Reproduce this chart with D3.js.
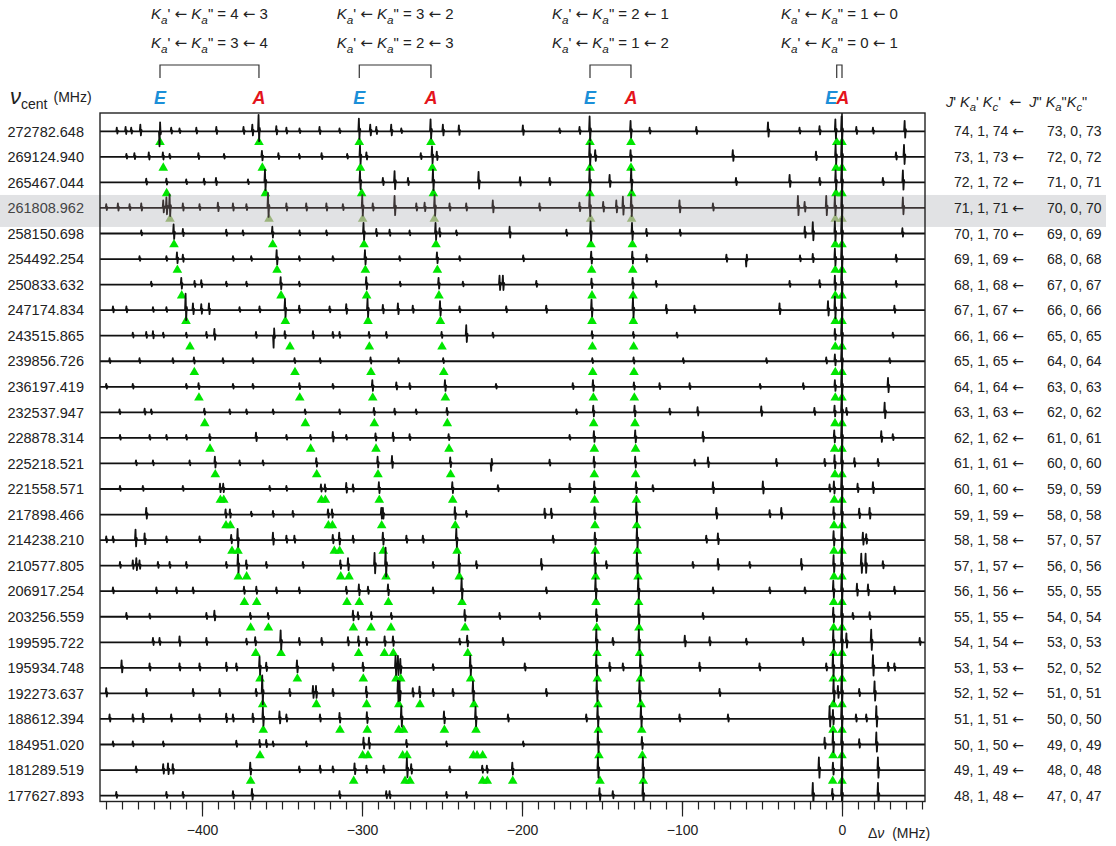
<!DOCTYPE html>
<html>
<head>
<meta charset="utf-8">
<script src="https://cdn.jsdelivr.net/npm/d3@7"></script>
<style>
body { margin: 0; background: #fff; }
svg text { font-family: "Liberation Sans", Arial, sans-serif; fill: #222; }
.arr { font-family: "DejaVu Sans", sans-serif; }
</style>
</head>
<body>
<div id="chart"></div>
<script>
var W = 1116, H = 846;

// Centre frequency of each strip (MHz), top to bottom
var centers = ["272782.648", "269124.940", "265467.044", "261808.962", "258150.698", "254492.254",
	"250833.632", "247174.834", "243515.865", "239856.726", "236197.419", "232537.947", "228878.314",
	"225218.521", "221558.571", "217898.466", "214238.210", "210577.805", "206917.254", "203256.559",
	"199595.722", "195934.748", "192273.637", "188612.394", "184951.020", "181289.519", "177627.893"];

// J' and J'' for the right hand assignments
var jUpper = [74, 73, 72, 71, 70, 69, 68, 67, 66, 65, 64, 63, 62, 61, 60, 59, 58, 57, 56, 55, 54, 53, 52, 51, 50, 49, 48];
var jLower = [73, 72, 71, 70, 69, 68, 67, 66, 65, 64, 63, 62, 61, 60, 59, 58, 57, 56, 55, 54, 53, 52, 51, 50, 49, 48, 47];

// Ka values of the four E/A pairs
var kaUpper = [["4", "3"], ["3", "2"], ["2", "1"], ["1", "0"]];
var kaLower = [["3", "4"], ["2", "3"], ["1", "2"], ["0", "1"]];

var xTicks = [-400, -300, -200, -100, 0];
var highlight = 3;

// Assigned lines (green triangles), offset from centre in MHz
var marks = [
	[-426.25, -364.4, -301.7, -256.9, -157.5, -131.9, -3.3, 0],
	[-424.2, -362.3, -301.0, -256.0, -157.5, -131.9, -3.75, 0],
	[-422.1, -360.4, -300.2, -255.4, -157.5, -131.5, -3.75, 0],
	[-420.0, -358.1, -299.6, -254.8, -157.1, -131.5, -4.2, 0],
	[-417.5, -355.8, -298.75, -253.75, -156.9, -131.0, -4.2, 0],
	[-415.4, -353.1, -297.9, -252.9, -156.5, -130.8, -4.2, 0],
	[-412.7, -350.6, -297.1, -251.9, -156.25, -130.6, -4.2, 0],
	[-410.0, -347.9, -296.25, -251.0, -156.25, -130.4, -4.2, 0],
	[-407.5, -345.0, -295.4, -250.0, -156.0, -130.2, -4.2, 0],
	[-404.8, -341.9, -294.4, -248.9, -155.8, -130.0, -4.2, 0],
	[-401.9, -338.9, -293.3, -247.9, -155.4, -129.8, -4.2, 0],
	[-398.3, -335.4, -292.3, -246.7, -155.2, -129.4, -4.4, 0],
	[-395.0, -332.1, -291.25, -245.6, -154.8, -129.0, -4.6, 0],
	[-391.7, -328.3, -290.0, -244.6, -154.8, -129.0, -4.4, 0],
	[-388.5, -386.4, -325.4, -322.9, -289.2, -243.3, -154.6, -128.5, -4.8, 0],
	[-385.0, -382.3, -321.0, -318.5, -287.7, -241.7, -154.4, -128.3, -5.0, 0],
	[-381.25, -377.5, -317.3, -314.0, -286.7, -240.6, -154.2, -127.9, -5.0, 0],
	[-377.3, -372.1, -313.3, -308.1, -285.0, -239.2, -154.0, -127.5, -5.0, 0],
	[-373.5, -365.8, -309.4, -301.7, -283.5, -237.5, -153.75, -127.1, -5.2, 0],
	[-369.6, -358.5, -305.4, -294.4, -281.9, -235.6, -153.3, -126.9, -5.2, 0],
	[-366.4, -350.6, -302.1, -286.0, -280.4, -233.9, -153.1, -126.5, -5.2, 0],
	[-363.75, -340.4, -299.2, -278.75, -275.8, -232.1, -152.9, -126.0, -5.4, 0],
	[-362.1, -328.5, -297.1, -277.0, -263.75, -230.0, -152.5, -125.6, -5.4, 0],
	[-361.7, -313.75, -296.7, -277.0, -274.0, -248.5, -228.75, -152.3, -125.2, -5.6, 0],
	[-363.75, -299.6, -296.25, -274.6, -271.9, -230.4, -228.1, -224.6, -151.9, -124.8, -5.6, 0],
	[-369.6, -305.2, -273.1, -270.0, -224.6, -221.7, -205.8, -151.25, -124.2, -5.8, 0],
	[]
];

// Spectrum lines: [offset MHz, relative intensity]
var peaks = [
	[[-453,0.25],[-447.5,0.3],[-444,0.25],[-438.3,0.45],[-426.3,-1.0],[-419,0.25],[-413.8,0.2],[-403.3,0.25],[-390.8,0.3],[-373.8,0.3],[-368.3,0.45],[-364.4,1.1],[-353.3,0.35],[-347,0.25],[-338.8,0.2],[-326.3,0.3],[-313.8,0.2],[-301.7,0.85],[-294.6,0.45],[-290.8,0.3],[-281.5,0.45],[-275.2,0.2],[-256.9,0.8],[-249.2,0.45],[-239.2,0.4],[-199.2,0.4],[-176.3,0.2],[-163.8,0.3],[-157.5,1.0],[-131.9,0.7],[-120,0.25],[-90.8,0.3],[-46,0.6],[-26.3,0.25],[-13.8,0.35],[-3.9,0.8],[0,1],[9.2,0.3],[19.6,0.25],[39.4,0.7]],
	[[-447,0.2],[-442,0.25],[-433,0.3],[-424.2,0.3],[-420,0.2],[-402,0.25],[-386,0.2],[-362.3,0.4],[-352,0.25],[-339,0.2],[-325,0.25],[-309,0.2],[-301,0.75],[-297,0.3],[-263,0.25],[-256,0.7],[-253,0.35],[-157.5,0.9],[-154,0.45],[-131.9,0.45],[-68,0.45],[-16,0.35],[-3.75,0.8],[0,1],[34,0.3],[39,0.8]],
	[[-434.6,0.25],[-422,0.25],[-409.6,0.2],[-398.5,0.25],[-391,0.3],[-371,0.2],[-360.4,0.85],[-301,0.75],[-286.7,0.3],[-279.4,0.75],[-271,0.3],[-255.4,0.85],[-226.9,0.7],[-201,0.35],[-182.5,0.3],[-157.5,0.9],[-145,0.5],[-131.5,0.9],[-66,0.3],[-32.5,0.5],[-13.75,0.3],[-3.75,0.8],[0,1],[25.8,0.3],[38.3,0.8]],
	[[-459.6,0.25],[-452.3,0.3],[-445,0.25],[-437.7,0.3],[-424,0.5],[-422,0.7],[-420,0.9],[-411.7,0.3],[-401.3,0.25],[-389.8,0.35],[-380.4,0.3],[-372,0.25],[-358.5,1.0],[-347,0.3],[-334.6,0.3],[-322,0.3],[-311.7,0.25],[-299.6,0.85],[-293,0.3],[-279.4,0.8],[-265.8,0.3],[-260.6,0.35],[-254.4,0.85],[-245,0.3],[-234.6,0.3],[-218,0.5],[-188.8,0.3],[-163.8,0.35],[-157.5,0.9],[-149,0.4],[-140.8,0.5],[-136.7,0.75],[-131.5,0.9],[-101.3,0.5],[-80.4,0.3],[-27.3,0.8],[-23.1,0.4],[-9.6,0.8],[-4.2,0.8],[0,1],[38.3,0.7]],
	[[-437.7,0.2],[-417.5,0.6],[-411.7,0.3],[-384.6,0.25],[-374.2,0.2],[-355.8,0.45],[-338.8,0.2],[-322,0.2],[-298.8,0.7],[-290.8,0.3],[-282.5,0.25],[-270,0.2],[-253.8,0.7],[-251.3,0.35],[-240.8,0.2],[-207.5,0.45],[-172,0.25],[-156.9,0.8],[-131,0.7],[-122,0.3],[-101,0.25],[-23,0.45],[-18,0.75],[-4.2,0.8],[0,1],[38,0.35]],
	[[-438.8,0.2],[-422,0.2],[-415.4,0.45],[-411.7,0.3],[-380.4,0.2],[-369,0.2],[-353.1,0.6],[-339,0.2],[-318,0.2],[-297.9,0.6],[-276.3,0.2],[-252.9,0.45],[-238.8,0.2],[-199,0.25],[-156.5,0.5],[-130.8,0.5],[-122,0.3],[-72,0.3],[-59.6,-0.5],[-26,0.25],[-18,0.35],[-4.2,0.7],[0,1],[34,0.3]],
	[[-431.5,0.2],[-412.7,0.45],[-404.4,0.25],[-400.2,0.3],[-384.6,0.2],[-372,0.2],[-350.6,0.5],[-339,0.2],[-297.1,0.5],[-276,0.2],[-251.9,0.45],[-236.7,0.2],[-213.8,0.6],[-211.7,0.6],[-190.8,0.25],[-156.3,0.4],[-130.6,0.45],[-116,0.25],[-32.5,0.25],[-13.8,0.3],[-4.2,0.6],[0,1],[34,0.25]],
	[[-455.4,0.25],[-447,0.25],[-430.4,0.2],[-422,0.2],[-410,1.1],[-405.4,0.45],[-400.2,0.4],[-395.4,0.45],[-376.3,0.2],[-363.8,0.25],[-347.9,0.75],[-339,0.3],[-320,0.25],[-309.6,0.4],[-296.3,0.75],[-286.7,0.35],[-277.3,0.45],[-268,0.3],[-251,0.6],[-238.8,0.25],[-209.6,0.25],[-184.6,0.3],[-156.3,0.7],[-130.4,0.8],[-109.6,0.35],[-92,0.3],[-38.8,0.45],[-8.5,0.6],[-4.2,0.9],[0,1],[33,0.3]],
	[[-443,0.2],[-434.6,0.25],[-430.4,0.3],[-424,0.2],[-409.6,0.2],[-397,0.25],[-392,0.45],[-366,0.25],[-355,-0.8],[-348,0.3],[-330.4,0.3],[-318,0.25],[-313.8,0.25],[-295.4,0.25],[-284.6,0.25],[-250,0.25],[-234.6,0.7],[-218,0.2],[-156,0.3],[-130.2,0.25],[-103,0.2],[-4.2,0.45],[0,1],[32,0.2]],
	[[-457.5,0.2],[-438.8,0.2],[-418,0.2],[-404.8,0.25],[-386.7,0.2],[-368,0.2],[-341.9,0.2],[-326,0.2],[-294.4,0.25],[-277,0.2],[-249,0.2],[-155.8,0.2],[-130,0.25],[-99,0.2],[-47,0.2],[-9.6,0.25],[-4.2,0.45],[0,1],[30,0.2]],
	[[-459.6,0.2],[-443,0.2],[-409.6,0.2],[-401.9,0.25],[-380.4,0.2],[-368,0.2],[-338.9,0.25],[-318,0.2],[-293.3,0.45],[-278.3,0.3],[-270,0.25],[-247.9,0.45],[-216,0.2],[-168,0.25],[-155.4,0.45],[-129.8,0.3],[-113.8,0.25],[-95,0.25],[-51,0.2],[-24,0.25],[-4.2,0.45],[0,1],[29,0.6]],
	[[-451.3,0.2],[-435.6,0.25],[-431.5,0.2],[-398.3,0.25],[-382.5,0.2],[-372,0.2],[-355.4,0.2],[-335.4,0.2],[-313.8,0.2],[-292.3,0.3],[-279.4,0.25],[-266,0.2],[-246.7,0.3],[-165.8,0.2],[-155.2,0.45],[-129.4,0.45],[-107.5,0.25],[-90,0.35],[-50.2,0.4],[-17,0.3],[-4.4,0.45],[0,1],[3,0.3],[26.9,0.65]],
	[[-451,0.2],[-432.5,0.2],[-422,0.2],[-409.6,0.2],[-395,0.25],[-366,0.35],[-347,0.2],[-332,0.2],[-318,0.4],[-309.6,0.2],[-291.3,0.3],[-280.4,0.35],[-270,0.25],[-245.6,0.25],[-170,0.2],[-154.8,0.45],[-129,0.5],[-86.7,0.4],[-4.6,0.5],[0,1],[24.8,0.45],[32,0.25]],
	[[-441,0.2],[-430.4,0.2],[-407.5,0.2],[-391.7,0.45],[-376.3,0.2],[-361.7,0.2],[-328.3,0.35],[-290,0.45],[-281,0.5],[-244.6,0.4],[-219,-0.5],[-182.5,0.25],[-154.8,0.45],[-129,0.45],[-91.9,0.25],[-83.5,0.4],[-40.8,0.3],[-10.6,0.3],[-4.4,0.55],[0,1],[8,0.35],[22.7,0.3]],
	[[-451,0.2],[-436.7,0.2],[-411.7,0.2],[-388.5,0.35],[-386.5,0.35],[-357.5,0.2],[-347,0.2],[-325.4,0.3],[-322.9,0.3],[-309.6,0.4],[-305.4,0.3],[-289.2,0.45],[-243.3,0.45],[-214.8,0.25],[-170,0.35],[-154.6,0.5],[-128.5,0.45],[-118,0.25],[-80.4,0.45],[-49.2,0.5],[-7.5,0.3],[-4.8,0.5],[0,1],[10,0.35],[19.6,0.45]],
	[[-434.6,0.45],[-385,0.35],[-382.3,0.35],[-369,0.2],[-355.4,0.25],[-343,0.25],[-321,0.35],[-318.5,0.35],[-287.7,0.45],[-286.7,0.45],[-241.7,0.5],[-234.6,0.25],[-185.6,0.4],[-181.5,0.4],[-154.4,0.5],[-128.3,0.8],[-78.3,0.45],[-45,0.3],[-37.7,0.45],[-5,0.5],[0,1],[11,0.4],[17.5,0.45]],
	[[-459.6,0.25],[-455.4,0.25],[-441.3,0.7],[-435.6,0.45],[-422,0.25],[-401.3,0.25],[-381.5,0.35],[-377.5,0.75],[-355.4,0.5],[-347,0.3],[-342,0.3],[-318,0.35],[-314,0.5],[-305.4,0.3],[-286.7,0.5],[-272,0.3],[-261.7,0.3],[-240.8,0.75],[-180.4,0.3],[-154.2,0.5],[-127.9,0.8],[-84.6,0.3],[-77.3,0.45],[-5,0.6],[0,1],[13.3,0.5],[15.4,0.4]],
	[[-451,0.25],[-443,0.35],[-440.8,0.5],[-438.8,0.35],[-427.3,0.25],[-420,0.25],[-409.6,0.25],[-384.6,0.25],[-377.3,0.75],[-372.1,0.35],[-359.6,0.25],[-336.7,0.25],[-313.3,0.35],[-308.5,0.5],[-291.9,0.85],[-285,1.2],[-255.4,0.25],[-239.2,0.75],[-228.3,0.3],[-187.7,0.45],[-154.2,0.85],[-147.1,0.3],[-127.9,0.85],[-93,0.25],[-77.3,0.45],[-57.5,0.25],[-25.2,0.45],[-5,0.7],[0,1],[12.3,0.8],[15,0.8],[25.8,0.3]],
	[[-455.4,0.25],[-428.3,0.25],[-415.8,0.25],[-405.4,0.25],[-373.5,0.3],[-365.8,0.3],[-353.3,0.25],[-339,0.25],[-309.6,0.3],[-301.7,0.45],[-296,0.3],[-283.5,0.45],[-255.4,0.25],[-237.5,0.85],[-184.6,0.25],[-153.8,0.85],[-127.1,0.85],[-80.4,0.25],[-45,0.25],[-23,0.25],[-5.2,0.7],[0,1],[9.6,0.5],[16.5,0.45],[33,0.3]],
	[[-447,0.25],[-432.5,0.2],[-397,0.25],[-392,0.4],[-369.6,0.25],[-358.5,0.25],[-305.4,0.4],[-302.3,0.3],[-294,0.3],[-281.5,0.25],[-235.6,0.45],[-213.8,0.25],[-188.8,0.25],[-153.3,0.5],[-126.9,0.8],[-86.7,0.25],[-5.2,0.6],[0,1],[7,0.25],[17.5,0.3]],
	[[-430.4,0.3],[-426.3,0.3],[-413.8,0.4],[-397,0.3],[-372,0.25],[-366.5,0.35],[-350.6,0.8],[-339,0.3],[-325,0.3],[-308.5,0.35],[-302,0.4],[-297,0.3],[-285.6,0.4],[-280.4,0.4],[-238.8,0.25],[-234,0.45],[-211.7,0.3],[-153.3,0.85],[-143,0.3],[-126.7,0.85],[-98,0.45],[-82.5,0.35],[-59.6,0.25],[-24.2,0.3],[-5.2,0.8],[0,1],[3,0.6],[18.5,0.85],[48.8,0.3]],
	[[-450,0.5],[-432.5,0.3],[-413.8,0.3],[-401.3,0.3],[-384.6,0.35],[-378.3,0.3],[-363.8,0.75],[-359.6,0.35],[-340.4,0.5],[-318,0.3],[-299.2,0.35],[-278.8,0.8],[-277.3,0.8],[-275.8,0.6],[-255.4,0.25],[-232.1,0.8],[-198,0.3],[-153.3,0.85],[-145,0.35],[-136.7,0.3],[-125.8,0.85],[-88.8,0.35],[-51.3,0.3],[-9.6,0.3],[-5.4,0.9],[0,1],[19.6,0.85],[29,0.35],[33,0.3]],
	[[-459.6,0.35],[-434.6,0.3],[-405.4,0.3],[-388.8,0.3],[-366,0.3],[-362.1,1.2],[-345,0.3],[-330.4,0.5],[-328.5,0.5],[-318,0.3],[-297.1,0.45],[-277.3,0.85],[-276.3,0.8],[-268,0.35],[-263.8,0.45],[-255.4,0.3],[-243,0.3],[-230.4,0.8],[-184.6,0.3],[-153,0.85],[-126.3,0.85],[-76.3,0.3],[-5,0.9],[-2.3,0.5],[0,1],[11,0.3],[20.6,0.8]],
	[[-457.5,0.3],[-443,0.3],[-436.7,0.35],[-419,0.3],[-401.3,0.3],[-384.6,0.35],[-380.4,0.3],[-368,0.35],[-361.7,0.75],[-351.3,0.5],[-347,0.3],[-326,0.3],[-313.8,0.4],[-296.7,0.45],[-275.2,0.85],[-248.5,0.5],[-228.8,0.8],[-208.5,0.3],[-159.6,0.3],[-152.5,0.85],[-125.4,0.85],[-101.3,0.3],[-71,0.3],[-7.5,0.85],[-5.4,0.6],[0,1],[9,0.3],[15.4,0.3],[21.7,0.85]],
	[[-455.4,0.2],[-443,0.2],[-424,0.2],[-378.3,0.25],[-363.8,0.3],[-359.6,0.3],[-355.4,0.2],[-334.6,0.2],[-298.8,0.45],[-295.4,0.45],[-272,0.3],[-247,0.2],[-199,0.2],[-152.3,0.85],[-124.8,0.5],[-10.6,0.45],[-5.4,0.85],[0,1],[11,0.35],[21.7,0.8]],
	[[-441,0.25],[-424,0.4],[-421,0.45],[-418,0.4],[-369.6,0.5],[-339,0.25],[-326,0.3],[-318,0.25],[-304.4,0.45],[-297,0.3],[-286.3,0.3],[-271.7,0.8],[-269,0.4],[-245,0.25],[-224.6,0.3],[-221.7,0.3],[-205.8,0.5],[-152.3,0.85],[-124.2,0.85],[-14.2,0.85],[-5.4,0.5],[0,1],[22.7,0.85]],
	[[-453.3,0.25],[-422,0.25],[-411.7,0.25],[-380.4,0.3],[-368.5,0.45],[-313.8,0.3],[-284.6,0.3],[-282.5,0.3],[-247,0.25],[-234.6,0.25],[-151.3,0.5],[-143,0.3],[-124.2,0.85],[-18,0.85],[-5.8,0.45],[0,1],[22.7,0.85]]
];

var svg = d3.select("#chart").append("svg")
	.attr("width", W)
	.attr("height", H);

var x = d3.scaleLinear().domain([-463.75, 51.875]).range([100, 925]);
var row = d3.scaleLinear().domain([0, centers.length - 1]).range([131.3, 795.6]);
var amp = d3.scaleLinear().domain([0, 1]).range([0, -15]);
var frameTop = 113, frameBottom = 801.5;

// grey band behind the highlighted strip
svg.append("rect")
	.attr("x", 0).attr("y", row(highlight) - 13)
	.attr("width", 1106).attr("height", 32)
	.attr("fill", "#e1e2e4");

svg.append("clipPath").attr("id", "plotclip")
	.append("rect")
	.attr("x", x.range()[0]).attr("y", frameTop)
	.attr("width", x.range()[1] - x.range()[0]).attr("height", frameBottom - frameTop);

// triangles first, the spectra run over them
var tri = d3.symbol().type(d3.symbolTriangle).size(40);
marks.forEach(function(list, i) {
	svg.append("g").selectAll("path")
		.data(list)
		.enter().append("path")
		.attr("d", tri)
		.attr("transform", function(d) { return "translate(" + x(d) + "," + (row(i) + 11) + ")"; })
		.attr("fill", i === highlight ? "#9bb47d" : "#00e600");
});

// each line drawn as a narrow derivative-like spike
function shape(list) {
	var pts = [[x.domain()[0], 0]];
	list.slice().sort(function(a, b) { return a[0] - b[0]; }).forEach(function(p) {
		var c = p[0], a = p[1];
		pts.push([c - 0.6, 0], [c - 0.25, a], [c + 0.1, -0.6 * a], [c + 0.45, 0.2 * a], [c + 0.8, 0]);
	});
	pts.push([x.domain()[1], 0]);
	return pts;
}

var traces = svg.append("g").attr("clip-path", "url(#plotclip)");
peaks.forEach(function(list, i) {
	var line = d3.line()
		.x(function(d) { return x(d[0]); })
		.y(function(d) { return row(i) + amp(d[1]); });
	traces.append("path")
		.datum(shape(list))
		.attr("d", line)
		.attr("fill", "none")
		.attr("stroke", i === highlight ? "#3b3434" : "#111")
		.attr("stroke-width", 1.8)
		.attr("stroke-linejoin", "round");
});

// zero line
svg.append("line")
	.attr("x1", x(0)).attr("x2", x(0))
	.attr("y1", frameTop).attr("y2", frameBottom)
	.attr("stroke", "#111").attr("stroke-width", 1.6);

// frame
svg.append("rect")
	.attr("x", x.range()[0]).attr("y", frameTop)
	.attr("width", x.range()[1] - x.range()[0]).attr("height", frameBottom - frameTop)
	.attr("fill", "none").attr("stroke", "#222").attr("stroke-width", 1.4);

// axis, minor and major ticks
var minor = svg.append("g")
	.attr("transform", "translate(0," + frameBottom + ")")
	.call(d3.axisBottom(x).tickValues(d3.range(-460, 51, 10)).tickSize(8).tickFormat(""));
minor.select(".domain").remove();
minor.selectAll("line").attr("stroke", "#222").attr("stroke-width", 1.2);

var major = svg.append("g")
	.attr("transform", "translate(0," + frameBottom + ")")
	.call(d3.axisBottom(x).tickValues(xTicks).tickSize(15).tickPadding(9));
major.select(".domain").remove();
major.selectAll("line").attr("stroke", "#222").attr("stroke-width", 1.2);
major.selectAll("text")
	.attr("font-family", "Liberation Sans, Arial, sans-serif")
	.attr("font-size", 14)
	.style("fill", "#222");

// rich text helper: parts of [text, "n" | "i" | "sub" | "arr"]
function rich(t, parts, fs) {
	var shift = 0;
	parts.forEach(function(p) {
		var s = t.append("tspan").text(p[0]);
		var target = p[1] === "sub" ? fs * 0.3 : 0;
		if (target !== shift) { s.attr("dy", target - shift); shift = target; }
		if (p[1] === "i" || p[1] === "sub") s.attr("font-style", "italic");
		if (p[1] === "sub") s.attr("font-size", fs * 0.78);
		if (p[1] === "arr") s.attr("class", "arr");
	});
}

var xl = svg.append("text").attr("x", 868).attr("y", 838).attr("font-size", 14);
rich(xl, [["\u0394", "n"], ["\u03bd", "i"], ["\u00a0\u00a0(MHz)", "n"]], 14);

// left labels
svg.append("g").selectAll("text")
	.data(centers)
	.enter().append("text")
	.attr("x", 84)
	.attr("y", function(d, i) { return row(i); })
	.attr("dy", "0.36em")
	.attr("text-anchor", "end")
	.attr("font-size", 14.5)
	.style("fill", function(d, i) { return i === highlight ? "#444" : "#222"; })
	.text(function(d) { return d; });

// right assignments
var right = svg.append("g");
jUpper.forEach(function(j, i) {
	var t = right.append("text")
		.attr("x", 1024).attr("y", row(i)).attr("dy", "0.36em")
		.attr("text-anchor", "end").attr("font-size", 14);
	rich(t, [[j + ", 1, " + j + " ", "n"], ["\u2190", "arr"]], 14);
	right.append("text")
		.attr("x", 1047).attr("y", row(i)).attr("dy", "0.36em")
		.attr("font-size", 14)
		.text(jLower[i] + ", 0, " + jLower[i]);
});

var hdr = svg.append("text").attr("x", 946).attr("y", 107).attr("font-size", 14.5);
rich(hdr, [["J", "i"], ["' ", "n"], ["K", "i"], ["a", "sub"], ["' ", "n"], ["K", "i"], ["c", "sub"],
	["'\u00a0\u00a0", "n"], ["\u2190", "arr"], ["\u00a0\u00a0", "n"], ["J", "i"], ["\" ", "n"], ["K", "i"], ["a", "sub"], ["\"", "n"],
	["K", "i"], ["c", "sub"], ["\"", "n"]], 14.5);

var vl = svg.append("text").attr("x", 10).attr("y", 104).attr("font-size", 22);
vl.append("tspan").attr("font-style", "italic").text("\u03bd");
vl.append("tspan").attr("font-size", 14).attr("dy", 5).text("cent");
vl.append("tspan").attr("font-size", 14).attr("dx", 6).attr("dy", -7).text("(MHz)");

// top labels, brackets and E / A markers from the first strip
function kaLine(k) {
	return [["K", "i"], ["a", "sub"], ["' ", "n"], ["\u2190", "arr"], [" ", "n"], ["K", "i"], ["a", "sub"],
		["\" = " + k[0] + " ", "n"], ["\u2190", "arr"], [" " + k[1], "n"]];
}
kaUpper.forEach(function(k, g) {
	var xe = x(marks[0][2 * g]), xa = x(marks[0][2 * g + 1]);
	var mid = (xe + xa) / 2;
	var t1 = svg.append("text").attr("x", mid).attr("y", 19).attr("text-anchor", "middle").attr("font-size", 15);
	rich(t1, kaLine(k), 15);
	var t2 = svg.append("text").attr("x", mid).attr("y", 48).attr("text-anchor", "middle").attr("font-size", 15);
	rich(t2, kaLine(kaLower[g]), 15);

	svg.append("path")
		.attr("d", "M" + xe + ",78V65H" + xa + "V78")
		.attr("fill", "none").attr("stroke", "#333").attr("stroke-width", 1.2);

	var close = xa - xe < 20;
	svg.append("text")
		.attr("x", close ? mid - 2 : xe).attr("y", 104)
		.attr("text-anchor", close ? "end" : "middle")
		.attr("font-size", 18).attr("font-weight", "bold").attr("font-style", "italic")
		.style("fill", "#1b8fd8").text("E");
	svg.append("text")
		.attr("x", close ? mid - 3 : xa).attr("y", 104)
		.attr("text-anchor", close ? "start" : "middle")
		.attr("font-size", 18).attr("font-weight", "bold").attr("font-style", "italic")
		.style("fill", "#e4141b").text("A");
});
</script>
</body>
</html>
